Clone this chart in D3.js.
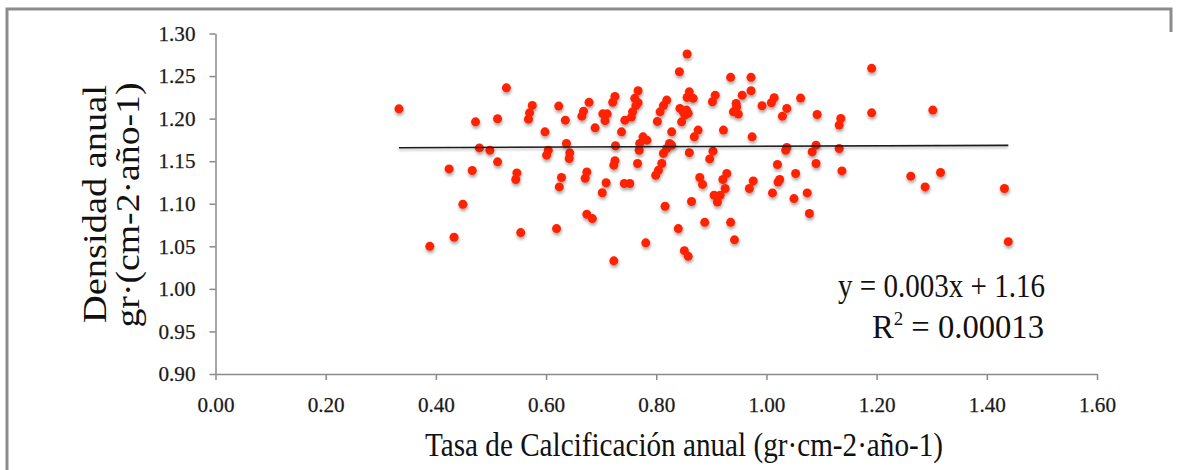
<!DOCTYPE html>
<html>
<head>
<meta charset="utf-8">
<script src="https://cdn.jsdelivr.net/npm/d3@7"></script>
<style>
  html, body { margin: 0; padding: 0; background: #fff; }
  svg { display: block; }
</style>
</head>
<body>
<svg id="chart" width="1180" height="470"></svg>
<script>
// ---- data ----
const calcRate = [
  0.333,0.528,0.575,0.570,0.568,0.472,0.512,0.598,0.479,0.498,0.512,0.601,0.604,0.424,0.466,0.547,0.545,0.449,0.554,0.433,0.389,
  0.623,0.635,0.678,0.668,0.665,0.689,0.703,0.711,0.707,0.725,0.721,0.743,0.737,0.637,0.643,0.642,0.726,0.725,0.723,0.628,0.624,
  0.674,0.671,0.709,0.702,0.742,0.752,0.674,0.684,0.619,0.723,
  0.767,0.761,0.767,0.763,0.757,0.755,
  0.766,0.776,0.783,0.770,0.769,
  0.802,0.807,0.813,0.819,0.828,0.824,0.828,0.819,0.813,0.810,0.804,0.799,0.816,0.840,0.781,0.851,0.858,
  0.856,0.842,0.860,0.856,0.867,0.843,0.849,0.855,0.858,0.852,0.846,0.876,0.869,0.860,0.864,
  0.879,0.884,0.907,0.902,0.922,0.903,0.897,0.928,0.921,0.925,0.905,0.916,0.911,0.888,0.935,0.942,0.935,
  0.972,0.972,0.956,0.945,0.946,0.940,0.949,0.992,1.014,1.009,1.062,1.037,1.029,1.092,1.135,1.132,1.191,1.191,
  0.974,1.037,1.035,1.090,1.083,1.132,1.020,1.090,1.137,0.976,0.969,1.024,1.021,1.053,1.011,1.050,1.074,1.078,
  1.262,1.288,1.302,1.316,1.432,1.439
];
const density = [
  1.2115,1.2362,1.2155,1.2068,1.1994,1.1962,1.1998,1.1845,1.1656,1.1629,1.1492,1.1571,1.1629,1.1409,1.1391,1.1362,1.1285,1.0994,1.0661,1.0606,1.0500,
  1.2147,1.1982,1.2191,1.2088,1.2029,1.1892,1.2056,1.2056,1.1976,1.2261,1.2192,1.1982,1.1845,1.1708,1.1598,1.1532,1.1682,1.1506,1.1453,1.1309,1.1198,
  1.1374,1.1300,1.1247,1.1129,1.1238,1.1238,1.0876,1.0826,1.0708,1.0329,
  1.2327,1.2238,1.2186,1.2153,1.2080,1.2018,
  1.1473,1.1786,1.1747,1.1708,1.1629,
  1.1967,1.2080,1.2153,1.2218,1.1845,1.1708,1.1688,1.1649,1.1591,1.1473,1.1394,1.1335,1.0971,1.0708,1.0541,1.0449,1.0382,
  1.2759,1.2551,1.2315,1.2249,1.2238,1.2120,1.2080,1.2100,1.2061,1.2041,1.1962,1.1865,1.1786,1.1600,1.1026,
  1.1308,1.1227,1.2276,1.2198,1.1865,1.1618,1.1527,1.1355,1.1285,1.1179,1.1100,1.1100,1.1021,1.0782,1.0782,1.0576,1.2485,
  1.2485,1.2327,1.2276,1.2179,1.2139,1.2080,1.2053,1.2151,1.2245,1.2186,1.2241,1.2120,1.2029,1.2049,1.2002,1.1924,1.2068,1.2591,
  1.1786,1.1661,1.1629,1.1688,1.1609,1.1649,1.1461,1.1473,1.1386,1.1268,1.1179,1.1285,1.1256,1.1355,1.1127,1.1061,1.1127,1.0885,
  1.1324,1.1198,1.2100,1.1367,1.1179,1.0555
];
const xTickValues = [0.00, 0.20, 0.40, 0.60, 0.80, 1.00, 1.20, 1.40, 1.60];
const yTickValues = [0.90, 0.95, 1.00, 1.05, 1.10, 1.15, 1.20, 1.25, 1.30];
const trendSlope = 0.0025;
const trendIntercept = 1.165;
const xTitle = "Tasa de Calcificación anual (gr·cm-2·año-1)";
const yTitleLines = ["Densidad anual", "gr·(cm-2·año-1)"];
const eqLine = "y = 0.003x + 1.16";
const r2Value = "0.00013";

// ---- chart ----
const svg = d3.select("#chart");
const serif = "'Liberation Serif', 'Times New Roman', serif";

const x = d3.scaleLinear().domain([0, 1.6]).range([215.5, 1097]);
const y = d3.scaleLinear().domain([0.9, 1.3]).range([374, 33.5]);

const defs = svg.append("defs");
const f = defs.append("filter").attr("id", "shadow")
  .attr("x", "-50%").attr("y", "-50%").attr("width", "200%").attr("height", "250%");
f.append("feDropShadow").attr("dx", 0.5).attr("dy", 2.5).attr("stdDeviation", 1.4)
  .attr("flood-color", "#000").attr("flood-opacity", 0.35);
const fl = defs.append("filter").attr("id", "lshadow")
  .attr("x", "-5%").attr("y", "-400%").attr("width", "110%").attr("height", "900%");
fl.append("feDropShadow").attr("dx", 0).attr("dy", 2).attr("stdDeviation", 1)
  .attr("flood-color", "#000").attr("flood-opacity", 0.25);

// outer frame
svg.append("path")
  .attr("d", "M7,470 L7,9 L1171,9 L1171,32")
  .attr("fill", "none").attr("stroke", "#8c8c8c").attr("stroke-width", 3);

// axes
const yAxis = d3.axisLeft(y).tickValues(yTickValues).tickFormat(d3.format(".2f"))
  .tickSize(6).tickSizeOuter(0).tickPadding(14);
const xAxis = d3.axisBottom(x).tickValues(xTickValues).tickFormat(d3.format(".2f"))
  .tickSize(6).tickSizeOuter(0).tickPadding(17);

const gy = svg.append("g").attr("transform", `translate(${x(0)},0)`).call(yAxis);
const gx = svg.append("g").attr("transform", `translate(0,${y(0.9)})`).call(xAxis);
[gx, gy].forEach(g => {
  g.select(".domain").attr("stroke", "#8a8a8a").attr("stroke-width", 1.5);
  g.selectAll(".tick line").attr("stroke", "#8a8a8a").attr("stroke-width", 1.5);
  g.selectAll(".tick text").attr("font-family", serif).attr("font-size", 21)
    .attr("fill", "#1a1a1a").attr("stroke", "#1a1a1a").attr("stroke-width", 0.25)
    .attr("textLength", 37).attr("lengthAdjust", "spacingAndGlyphs");
});

// points
const pts = calcRate.map((v, i) => ({ x: v, y: density[i] }));
svg.append("g").attr("filter", "url(#shadow)")
  .selectAll("circle").data(pts).join("circle")
  .attr("cx", d => x(d.x)).attr("cy", d => y(d.y)).attr("r", 4.5)
  .attr("fill", "#ff2306");

// trend line
const ext = d3.extent(calcRate);
const line = d3.line().x(d => x(d)).y(d => y(trendSlope * d + trendIntercept));
svg.append("path").datum(ext).attr("d", line)
  .attr("stroke", "#1a1a1a").attr("stroke-width", 1.6).attr("fill", "none")
  .attr("filter", "url(#lshadow)");

// equation
svg.append("text").attr("x", 1045).attr("y", 297)
  .attr("text-anchor", "end").attr("font-family", serif).attr("font-size", 33)
  .attr("textLength", 207).attr("lengthAdjust", "spacingAndGlyphs")
  .attr("fill", "#111").text(eqLine);
const r2 = svg.append("text").attr("x", 1044).attr("y", 338)
  .attr("text-anchor", "end").attr("font-family", serif).attr("font-size", 33)
  .attr("textLength", 172).attr("lengthAdjust", "spacingAndGlyphs")
  .attr("fill", "#111");
r2.append("tspan").text("R");
r2.append("tspan").attr("font-size", 19).attr("dy", -13).text("2");
r2.append("tspan").attr("dy", 13).text(" = " + r2Value);

// x title
svg.append("text").attr("x", 684).attr("y", 456)
  .attr("text-anchor", "middle").attr("font-family", serif).attr("font-size", 33)
  .attr("textLength", 518).attr("lengthAdjust", "spacingAndGlyphs")
  .attr("fill", "#111").text(xTitle);

// y title (two lines, rotated)
const yT = svg.append("g");
yT.append("text").attr("transform", "translate(106,204) rotate(-90)")
  .attr("text-anchor", "middle").attr("font-family", serif).attr("font-size", 34)
  .attr("textLength", 238).attr("lengthAdjust", "spacingAndGlyphs")
  .attr("fill", "#111").text(yTitleLines[0]);
yT.append("text").attr("transform", "translate(139,205) rotate(-90)")
  .attr("text-anchor", "middle").attr("font-family", serif).attr("font-size", 34)
  .attr("textLength", 245).attr("lengthAdjust", "spacingAndGlyphs")
  .attr("fill", "#111").text(yTitleLines[1]);
</script>
</body>
</html>
